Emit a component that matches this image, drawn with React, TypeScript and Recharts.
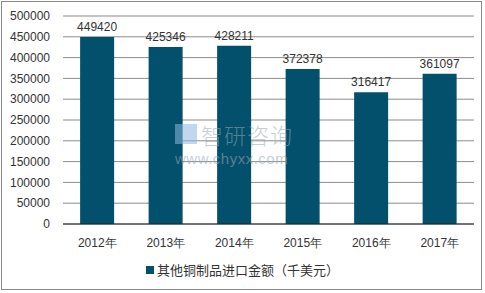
import React from "react";
import { BarChart, Bar, XAxis, YAxis, CartesianGrid, LabelList } from "recharts";

const categories = ["2012年", "2013年", "2014年", "2015年", "2016年", "2017年"];
const values = [449420, 425346, 428211, 372378, 316417, 361097];
const yTicks = [0, 50000, 100000, 150000, 200000, 250000, 300000, 350000, 400000, 450000, 500000];
const seriesName = "其他铜制品进口金额（千美元）";

const data = categories.map((c, i) => ({ name: c, value: values[i] }));

const FONT = "'Liberation Sans', Arial, sans-serif";
const BAR = "#02506b";

export default function App() {
  return (
    <div style={{ position: "absolute", left: 0, top: 0, width: 485, height: 293, background: "#fff", fontFamily: FONT }}>
      <div style={{ position: "absolute", left: 1, top: 1, width: 481, height: 289, border: "1px solid #8a8a8a", boxSizing: "border-box" }} />
      <BarChart
        width={485}
        height={293}
        data={data}
        margin={{ top: 16, right: 11, bottom: 39, left: 0 }}
        barCategoryGap="25%"
      >
        <CartesianGrid vertical={false} stroke="#8c8c8c" strokeWidth={1} />
        <XAxis
          dataKey="name"
          axisLine={{ stroke: "#222", strokeWidth: 1 }}
          tickLine={false}
          tick={{ fill: "#333", fontSize: 12, fontFamily: FONT }}
          tickMargin={8}
          height={30}
        />
        <YAxis
          width={63}
          domain={[0, 500000]}
          ticks={yTicks}
          interval={0}
          axisLine={false}
          tickLine={false}
          tickMargin={7}
          tick={{ fill: "#333", fontSize: 12, fontFamily: FONT }}
        />
        <Bar dataKey="value" name={seriesName} fill={BAR} isAnimationActive={false}>
          <LabelList dataKey="value" position="top" offset={6} fill="#333" fontSize={12} fontFamily={FONT} />
        </Bar>
      </BarChart>
      <div style={{ position: "absolute", left: 146, top: 260, display: "flex", alignItems: "center", fontSize: 13, color: "#333", fontFamily: "'Noto Sans CJK SC', sans-serif" }}>
        <div style={{ width: 8, height: 8, background: BAR, marginRight: 3 }} />
        <span>{seriesName}</span>
      </div>
      <div style={{ position: "absolute", left: 175, top: 118, width: 160, pointerEvents: "none", opacity: 0.55 }}>
        <div style={{ display: "flex", alignItems: "center" }}>
          <div style={{ width: 22, height: 20, background: "#8fb8df", marginRight: 4 }} />
          <span style={{ fontSize: 22, color: "#9aa8b4", fontFamily: "'Noto Sans CJK SC', sans-serif", letterSpacing: 1, fontWeight: 300 }}>智研咨询</span>
        </div>
        <div style={{ fontSize: 15, color: "#9aa8b4", marginTop: 0, letterSpacing: 0.5 }}>www.chyxx.com</div>
      </div>
    </div>
  );
}
